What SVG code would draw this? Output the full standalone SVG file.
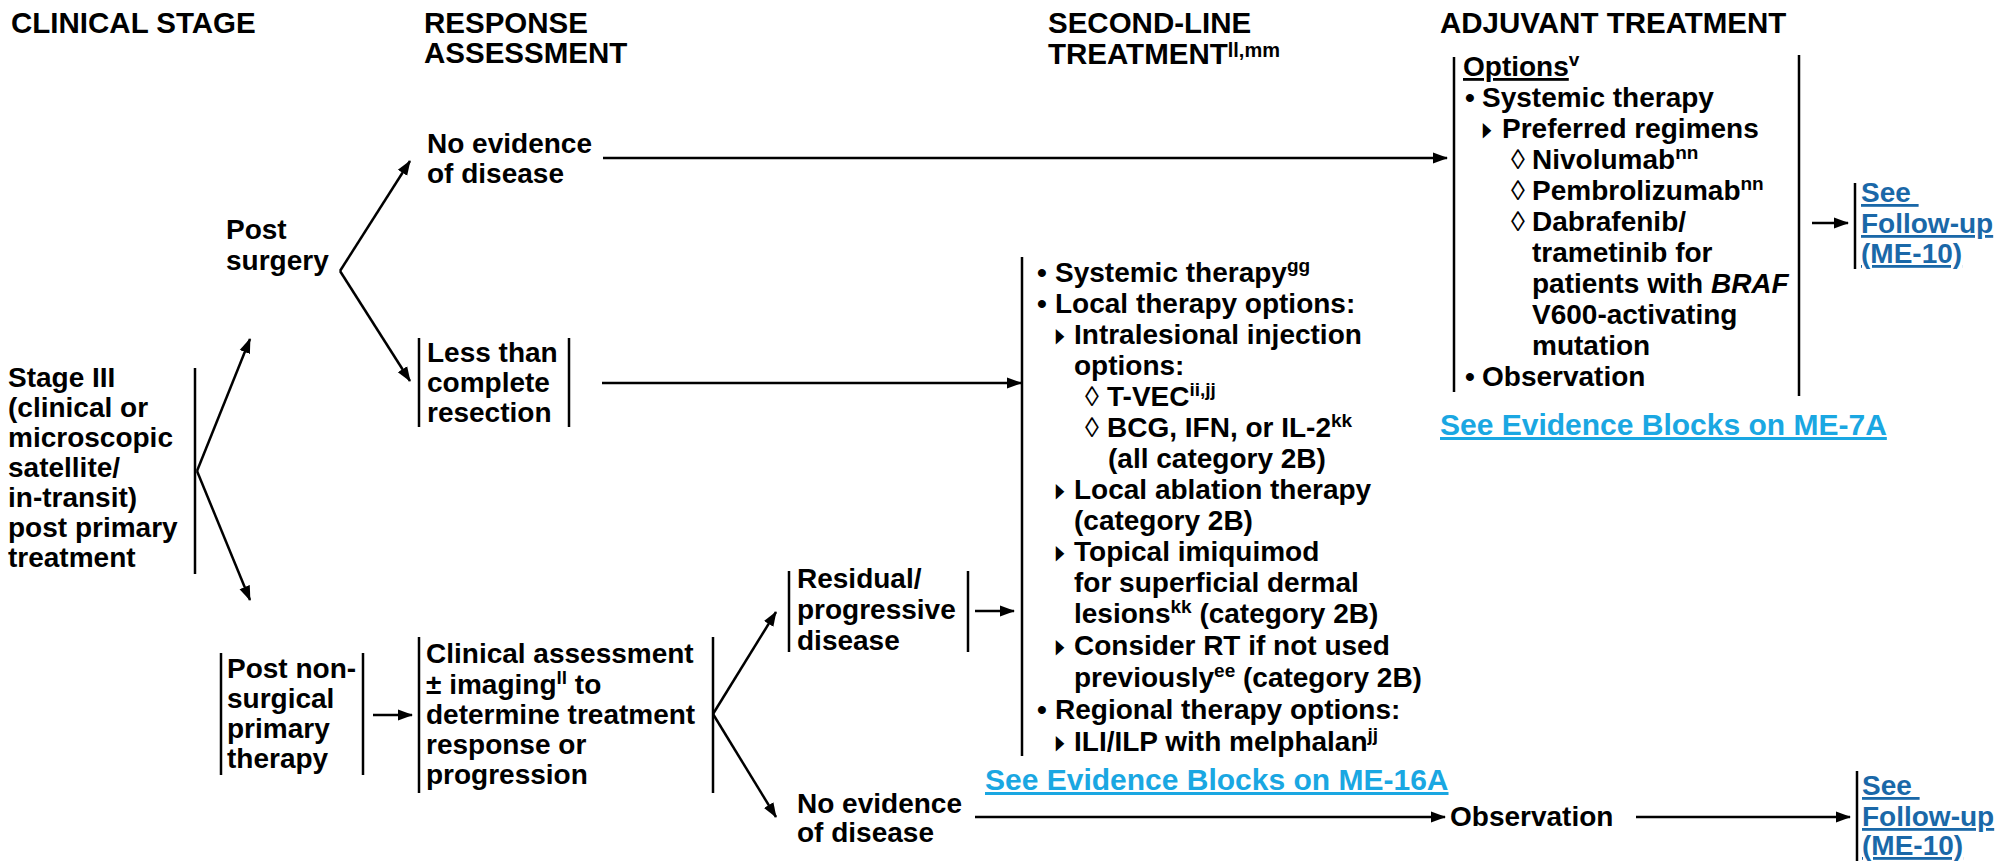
<svg xmlns="http://www.w3.org/2000/svg" width="1997" height="861" viewBox="0 0 1997 861">
<style>
text { font-family: "Liberation Sans", Arial, Helvetica, sans-serif; font-size: 28px; font-weight: bold; fill: #000; white-space: pre; }
.hd { font-size: 29.5px; }
.sup { font-size: 19px; }
.hsup { font-size: 20px; }
.ev { fill: #1AA7E2; text-decoration: underline; font-size: 30px; }
.fu { fill: #1A68A8; text-decoration: underline; }
.u { text-decoration: underline; }
.dia { font-weight: normal; }
.bar { stroke: #000; stroke-width: 2.5; fill: none; }
.con { stroke: #000; stroke-width: 2.5; fill: none; marker-end: url(#ah); }
</style>
<defs>
<marker id="ah" markerUnits="userSpaceOnUse" markerWidth="16" markerHeight="12" refX="14" refY="6" orient="auto">
<path d="M0,0.5 L15,6 L0,11.5 z" fill="#000"/>
</marker>
</defs>
<rect width="1997" height="861" fill="#fff"/>

<g id="headers">
<text class="hd" x="11" y="33">CLINICAL STAGE</text>
<text class="hd" x="424" y="33">RESPONSE</text>
<text class="hd" x="424" y="63">ASSESSMENT</text>
<text class="hd" x="1048" y="33">SECOND-LINE</text>
<text class="hd" x="1048" y="64">TREATMENT<tspan class="hsup" dy="-7">ll,mm</tspan></text>
<text class="hd" x="1440" y="33">ADJUVANT TREATMENT</text>
</g>

<g id="stage3">
<line class="bar" x1="195" y1="368" x2="195" y2="574"/>
<text x="8" y="387">Stage III</text>
<text x="8" y="417">(clinical or</text>
<text x="8" y="447">microscopic</text>
<text x="8" y="477">satellite/</text>
<text x="8" y="507">in-transit)</text>
<text x="8" y="537">post primary</text>
<text x="8" y="567">treatment</text>
</g>

<g id="post-surgery">
<text x="226" y="239">Post</text>
<text x="226" y="270">surgery</text>
</g>

<g id="ned-top">
<text x="427" y="153">No evidence</text>
<text x="427" y="183">of disease</text>
</g>

<g id="less-than-complete">
<line class="bar" x1="419" y1="338" x2="419" y2="427"/>
<line class="bar" x1="569" y1="338" x2="569" y2="427"/>
<text x="427" y="362">Less than</text>
<text x="427" y="392">complete</text>
<text x="427" y="422">resection</text>
</g>

<g id="post-nonsurgical">
<line class="bar" x1="221" y1="653" x2="221" y2="775"/>
<line class="bar" x1="363" y1="653" x2="363" y2="775"/>
<text x="227" y="678">Post non-</text>
<text x="227" y="708">surgical</text>
<text x="227" y="738">primary</text>
<text x="227" y="768">therapy</text>
</g>

<g id="clinical-assessment">
<line class="bar" x1="419" y1="637" x2="419" y2="793"/>
<line class="bar" x1="713" y1="637" x2="713" y2="793"/>
<text x="426" y="663">Clinical assessment</text>
<text x="426" y="694">± imaging<tspan class="sup" dy="-10">ll</tspan><tspan dy="10"> to</tspan></text>
<text x="426" y="724">determine treatment</text>
<text x="426" y="754">response or</text>
<text x="426" y="784">progression</text>
</g>

<g id="residual">
<line class="bar" x1="789" y1="571" x2="789" y2="652"/>
<line class="bar" x1="968" y1="571" x2="968" y2="652"/>
<text x="797" y="588">Residual/</text>
<text x="797" y="619">progressive</text>
<text x="797" y="650">disease</text>
</g>

<g id="ned-bottom">
<text x="797" y="813">No evidence</text>
<text x="797" y="842">of disease</text>
</g>

<g id="second-line">
<line class="bar" x1="1022" y1="257" x2="1022" y2="756"/>
<text x="1037" y="282">•</text><text x="1055" y="282">Systemic therapy<tspan class="sup" dy="-10">gg</tspan></text>
<text x="1037" y="313">•</text><text x="1055" y="313">Local therapy options:</text>
<text transform="translate(1056 344) scale(0.55 1)">▸</text><text x="1074" y="344">Intralesional injection</text>
<text x="1074" y="375">options:</text>
<text class="dia" x="1085" y="406">◊</text><text x="1107" y="406">T-VEC<tspan class="sup" dy="-10">ii,jj</tspan></text>
<text class="dia" x="1085" y="437">◊</text><text x="1107" y="437">BCG, IFN, or IL-2<tspan class="sup" dy="-10">kk</tspan></text>
<text x="1108" y="468">(all category 2B)</text>
<text transform="translate(1056 499) scale(0.55 1)">▸</text><text x="1074" y="499">Local ablation therapy</text>
<text x="1074" y="530">(category 2B)</text>
<text transform="translate(1056 561) scale(0.55 1)">▸</text><text x="1074" y="561">Topical imiquimod</text>
<text x="1074" y="592">for superficial dermal</text>
<text x="1074" y="623">lesions<tspan class="sup" dy="-10">kk</tspan><tspan dy="10"> (category 2B)</tspan></text>
<text transform="translate(1056 655) scale(0.55 1)">▸</text><text x="1074" y="655">Consider RT if not used</text>
<text x="1074" y="687">previously<tspan class="sup" dy="-10">ee</tspan><tspan dy="10"> (category 2B)</tspan></text>
<text x="1037" y="719">•</text><text x="1055" y="719">Regional therapy options:</text>
<text transform="translate(1056 751) scale(0.55 1)">▸</text><text x="1074" y="751">ILI/ILP with melphalan<tspan class="sup" dy="-10">jj</tspan></text>
</g>

<g id="evidence-me16a">
<text class="ev" x="985" y="790">See Evidence Blocks on ME-16A</text>
</g>

<g id="adjuvant-options">
<line class="bar" x1="1454" y1="57" x2="1454" y2="392"/>
<line class="bar" x1="1799" y1="55" x2="1799" y2="396"/>
<text x="1463" y="76"><tspan class="u">Options</tspan><tspan class="sup" dy="-10">v</tspan></text>
<text x="1465" y="107">•</text><text x="1482" y="107">Systemic therapy</text>
<text transform="translate(1483 138) scale(0.55 1)">▸</text><text x="1502" y="138">Preferred regimens</text>
<text class="dia" x="1511" y="169">◊</text><text x="1532" y="169">Nivolumab<tspan class="sup" dy="-10">nn</tspan></text>
<text class="dia" x="1511" y="200">◊</text><text x="1532" y="200">Pembrolizumab<tspan class="sup" dy="-10">nn</tspan></text>
<text class="dia" x="1511" y="231">◊</text><text x="1532" y="231">Dabrafenib/</text>
<text x="1532" y="262">trametinib for</text>
<text x="1532" y="293">patients with <tspan font-style="italic">BRAF</tspan></text>
<text x="1532" y="324">V600-activating</text>
<text x="1532" y="355">mutation</text>
<text x="1465" y="386">•</text><text x="1482" y="386">Observation</text>
</g>

<g id="evidence-me7a">
<text class="ev" x="1440" y="435">See Evidence Blocks on ME-7A</text>
</g>

<g id="followup-top">
<line class="bar" x1="1855" y1="183" x2="1855" y2="269"/>
<text class="fu" x="1861" y="202">See </text>
<text class="fu" x="1861" y="233">Follow-up</text>
<text class="fu" x="1861" y="263">(ME-10)</text>
</g>

<g id="observation">
<text x="1450" y="826">Observation</text>
</g>

<g id="followup-bottom">
<line class="bar" x1="1857" y1="771" x2="1857" y2="861"/>
<text class="fu" x="1862" y="795">See </text>
<text class="fu" x="1862" y="826">Follow-up</text>
<text class="fu" x="1862" y="855">(ME-10)</text>
</g>

<g id="connectors">
<path class="con" d="M197,471 L250,339"/>
<path class="con" d="M197,471 L250,600"/>
<path class="con" d="M340,271 L410,161"/>
<path class="con" d="M340,271 L410,381"/>
<path class="con" d="M603,158 L1447,158"/>
<path class="con" d="M602,383 L1021,383"/>
<path class="con" d="M373,715 L412,715"/>
<path class="con" d="M713,714 L776,612"/>
<path class="con" d="M713,714 L776,817"/>
<path class="con" d="M975,611 L1014,611"/>
<path class="con" d="M975,817 L1445,817"/>
<path class="con" d="M1636,817 L1850,817"/>
<path class="con" d="M1812,223 L1848,223"/>
</g>
</svg>
